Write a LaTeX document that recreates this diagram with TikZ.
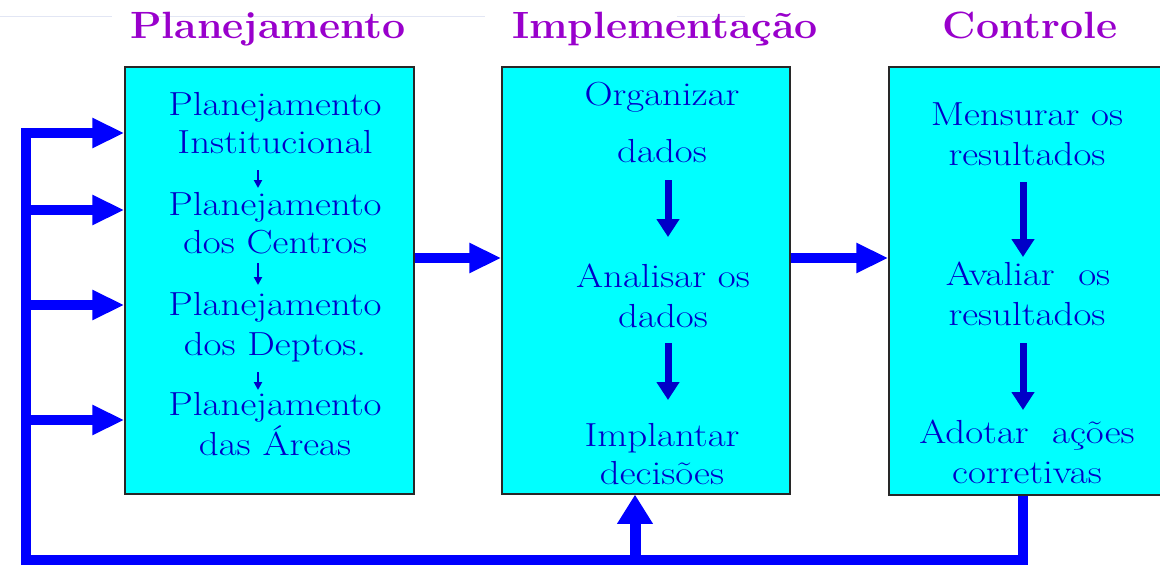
\documentclass[tikz,border=0pt]{standalone}
\usepackage{fontspec}
\usetikzlibrary{arrows.meta,fit}
\definecolor{hdr}{RGB}{153,0,204}
\definecolor{txt}{RGB}{0,0,200}
\definecolor{fbblue}{RGB}{0,0,255}
\definecolor{boxfill}{RGB}{0,255,255}
\definecolor{boxline}{RGB}{40,40,40}
\definecolor{faint}{RGB}{226,230,244}
\newcommand\wx[1]{\scalebox{1.17}[1]{#1}}
\newcommand\wh[1]{\scalebox{1.08}[1]{#1}}
\begin{document}
\begin{tikzpicture}[x=0.75pt,y=-0.75pt,
  panel/.style={draw=boxline, line width=0.9pt, fill=boxfill, inner sep=0pt},
  hdrtext/.style={text=hdr, font=\fontsize{28.5}{30}\selectfont\bfseries, anchor=base, inner sep=0pt},
  lbl/.style={text=txt, font=\fontsize{25}{28}\selectfont, anchor=base, inner sep=0pt},
  flow/.style={draw=fbblue, line width=7.5pt, -{Triangle[length=24pt,width=21pt]}},
  loopline/.style={draw=fbblue, line width=7.5pt},
  stepdark/.style={draw=txt, line width=5.25pt, -{Triangle[length=13.5pt,width=16.5pt]}},
  stepthin/.style={draw=txt, line width=1.5pt, -{Triangle[length=6pt,width=6pt]}}]
\useasboundingbox (0,0) rectangle (1160,564);
\clip (0,0) rectangle (1160,564);
\fill[white] (0,0) rectangle (1160,564);

% faint top rule
\draw[faint, line width=0.75pt] (0,16) -- (112,16) (150,16) -- (485,16) (677,16) -- (745,16);

% headers
\node[hdrtext] (h1) at (268,38) {\wh{Planejamento}};
\node[hdrtext] (h2) at (665,38) {\wh{Implementação}};
\node[hdrtext] (h3) at (1030,38) {\wh{Controle}};

% boxes
\node[panel, fit={(125,67) (414,494)}] (b1) {};
\node[panel, fit={(502,67) (790,494)}] (b2) {};
\node[panel, fit={(889,67) (1175,495)}] (b3) {};

% box 1 text
\node[lbl] (a1) at (275,115) {\wx{Planejamento}};
\node[lbl] (a2) at (275,153) {\wx{Institucional}};
\node[lbl] (a3) at (275,215) {\wx{Planejamento}};
\node[lbl] (a4) at (275,253) {\wx{dos Centros}};
\node[lbl] (a5) at (275,315) {\wx{Planejamento}};
\node[lbl] (a6) at (275,355) {\wx{dos Deptos.}};
\node[lbl] (a7) at (275,415) {\wx{Planejamento}};
\node[lbl] (a8) at (275,455) {\wx{das Áreas}};
\draw[stepthin] (258,170) -- (258,188);
\draw[stepthin] (258,263) -- (258,285);
\draw[stepthin] (258,372) -- (258,390);

% box 2 text
\node[lbl] (m1) at (662,105) {\wx{Organizar}};
\node[lbl] (m2) at (662,162) {\wx{dados}};
\node[lbl] (m3) at (663,287) {\wx{Analisar os}};
\node[lbl] (m4) at (663,327) {\wx{dados}};
\node[lbl] (m5) at (662,446) {\wx{Implantar}};
\node[lbl] (m6) at (662,484) {\wx{decisões}};
\draw[stepdark] (668,180) -- (668,237);
\draw[stepdark] (668,343) -- (668,400);

% box 3 text
\node[lbl] (c1) at (1027,125) {\wx{Mensurar os}};
\node[lbl] (c2) at (1027,165) {\wx{resultados}};
\node[lbl] (c3) at (1028,285) {\wx{Avaliar\ \ os}};
\node[lbl] (c4) at (1027,325) {\wx{resultados}};
\node[lbl] (c5) at (1027,443) {\wx{Adotar\ \ ações}};
\node[lbl] (c6) at (1027,483) {\wx{corretivas}};
\draw[stepdark] (1023,182) -- (1023,257);
\draw[stepdark] (1023,343) -- (1023,410);

% main flow
\draw[flow] (b1.east |- 0,258) -- (b2.west |- 0,258);
\draw[flow] (b2.east |- 0,258) -- (b3.west |- 0,258);

% feedback loop
\coordinate (br) at (1023,560);
\coordinate (bl) at (26,560);
\draw[loopline, -{Triangle[length=24pt,width=21pt]}] (b3.south -| br) -- (br) -- (bl) -- (26,133) -- (b1.west |- 0,133);
\draw[flow] (26,210) -- (b1.west |- 0,210);
\draw[flow] (26,305) -- (b1.west |- 0,305);
\draw[flow] (26,420) -- (b1.west |- 0,420);
\draw[draw=fbblue, line width=8.25pt, -{Triangle[length=22pt,width=25.5pt]}] (635,560) -- (b2.south -| 635,0);
\end{tikzpicture}
\end{document}
